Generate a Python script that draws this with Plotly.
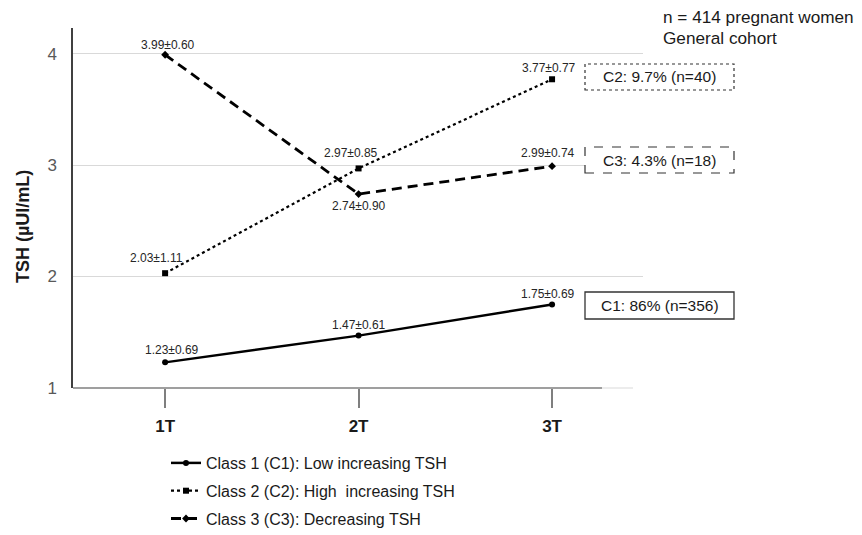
import plotly.graph_objects as go

# ---- data ----
trimesters = ["1T", "2T", "3T"]
x_pos = [1, 2, 3]
c1_mean = [1.23, 1.47, 1.75]
c1_sd = [0.69, 0.61, 0.69]
c2_mean = [2.03, 2.97, 3.77]
c2_sd = [1.11, 0.85, 0.77]
c3_mean = [3.99, 2.74, 2.99]
c3_sd = [0.60, 0.90, 0.74]
series_names = ["Class 1 (C1): Low increasing TSH",
                "Class 2 (C2): High  increasing TSH",
                "Class 3 (C3): Decreasing TSH"]
box_labels = ["C1: 86% (n=356)", "C2: 9.7% (n=40)", "C3: 4.3% (n=18)"]
y_ticks = [1, 2, 3, 4]

FONT = "Liberation Sans, Arial, sans-serif"

fig = go.Figure()

styles = [
    dict(dash="solid", width=2.5, symbol="circle", size=6),
    dict(dash="dot", width=2.2, symbol="square", size=6),
    dict(dash="10px,6px", width=2.8, symbol="diamond", size=6),
]
means = [c1_mean, c2_mean, c3_mean]
sds = [c1_sd, c2_sd, c3_sd]

for i, (m, st, name) in enumerate(zip(means, styles, series_names)):
    fig.add_trace(go.Scatter(
        x=x_pos, y=m, mode="lines+markers", name=name,
        legendgroup=f"g{i}",
        line=dict(color="black", width=st["width"], dash=st["dash"]),
        marker=dict(color="black", symbol=st["symbol"], size=st["size"]),
        hoverinfo="skip",
    ))

# label offsets (pixels) for each series/point
offsets = [
    [(7, 12), (0, 11), (-4, 10)],
    [(-9, 15), (-8, 15), (-3, 11)],
    [(3, 10), (0, -12), (-4, 13)],
]
annotations = []
for m, s, offs in zip(means, sds, offsets):
    for xv, mv, sv, (dx, dy) in zip(x_pos, m, s, offs):
        annotations.append(dict(
            x=xv, y=mv, xref="x", yref="y", text=f"{mv:.2f}±{sv:.2f}",
            showarrow=False, xshift=dx, yshift=dy,
            font=dict(family=FONT, size=12, color="#262626"),
        ))

# page offset (body margin) compensation
OFF = 8
L, R = 73, 643
T, B = 28, 388
W, H = R - L, B - T
FW, FH = 862 - OFF, 535 - OFF


def px(x):
    return (x - L) / W


def py(y):
    return (B - y) / H


box_geom = [(292, 319, "solid"), (64, 90, "dot"), (147, 173, "dash")]
shapes = []
for lbl, (y0, y1, dash) in zip(box_labels, box_geom):
    shapes.append(dict(type="rect", xref="paper", yref="paper",
                       x0=px(585), x1=px(734), y0=py(y1), y1=py(y0),
                       line=dict(color="#333333", width=1.2 if dash != "solid" else 1.3, dash=dash),
                       fillcolor="white", layer="above"))
    annotations.append(dict(x=px(659.5), y=py((y0 + y1) / 2), xref="paper", yref="paper",
                            text=lbl, showarrow=False, xanchor="center", yanchor="middle",
                            font=dict(family=FONT, size=15.5, color="#1a1a1a")))

# x axis line
shapes.append(dict(type="line", xref="paper", yref="paper", x0=0, x1=px(602), y0=0, y1=0,
                   line=dict(color="#7f7f7f", width=1.5), layer="above"))
shapes.append(dict(type="line", xref="paper", yref="paper", x0=px(602), x1=px(633), y0=0, y1=0,
                   line=dict(color="#e0e0e0", width=1.2), layer="below"))

# top-right text
annotations.append(dict(x=px(661), y=py(17), xref="paper", yref="paper", text="n = 414 pregnant women",
                        showarrow=False, xanchor="left", yanchor="middle",
                        font=dict(family=FONT, size=17.2, color="#1a1a1a")))
annotations.append(dict(x=px(661), y=py(38), xref="paper", yref="paper", text="General cohort",
                        showarrow=False, xanchor="left", yanchor="middle",
                        font=dict(family=FONT, size=17.2, color="#1a1a1a")))

# y axis title
annotations.append(dict(x=px(23), y=py(227), xref="paper", yref="paper", text="<b>TSH (µUI/mL)</b>",
                        showarrow=False, textangle=-90, xanchor="center", yanchor="middle",
                        font=dict(family=FONT, size=18, color="#1a1a1a")))

fig.update_layout(
    width=FW, height=FH,
    margin=dict(l=L - OFF, r=FW - (R - OFF), t=T - OFF, b=FH - (B - OFF), autoexpand=False),
    paper_bgcolor="white", plot_bgcolor="white",
    font=dict(family=FONT),
    shapes=shapes, annotations=annotations,
    showlegend=True,
    legend=dict(x=px(166), y=py(446), xanchor="left", yanchor="top",
                font=dict(family=FONT, size=16, color="#1a1a1a"),
                tracegroupgap=4, itemwidth=30, bgcolor="rgba(0,0,0,0)"),
    xaxis=dict(range=[0.524, 3.47], tickvals=x_pos, ticktext=[f"<b>{t}</b>" for t in trimesters],
               showgrid=False, zeroline=False, showline=False,
               ticks="outside", ticklen=19, tickwidth=1.5, tickcolor="#7f7f7f",
               tickfont=dict(family=FONT, size=17, color="#1a1a1a"), ticklabelstandoff=4,
               fixedrange=True),
    yaxis=dict(range=[1, 4.23], tickvals=y_ticks, showgrid=True, gridcolor="#d9d9d9", gridwidth=1,
               zeroline=False, showline=True, linecolor="#404040", linewidth=1.5,
               ticks="", tickfont=dict(family=FONT, size=17, color="#595959"),
               ticklabelstandoff=11, fixedrange=True),
)

fig.write_html("out.html")
